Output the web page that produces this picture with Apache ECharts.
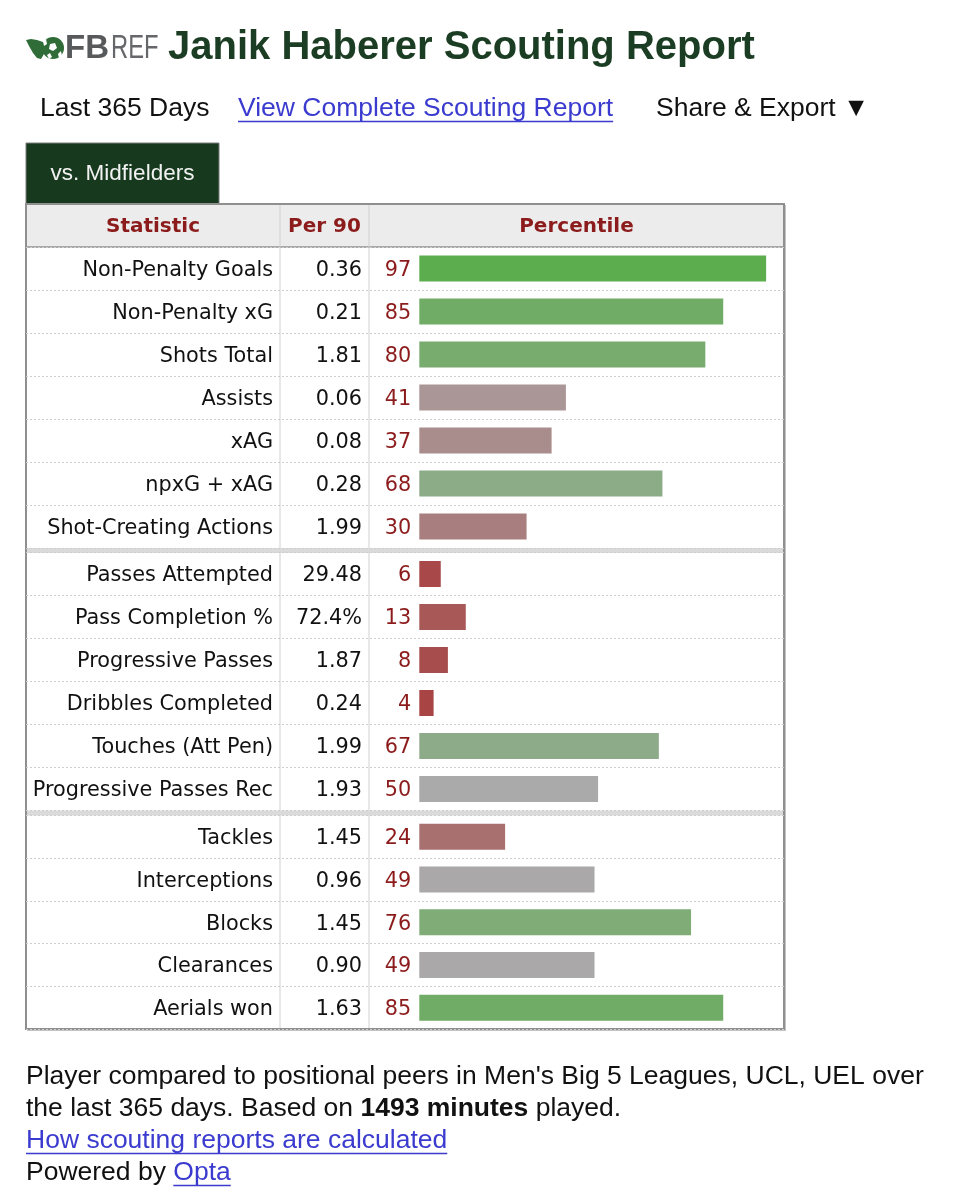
<!DOCTYPE html>
<html><head><meta charset="utf-8">
<script src="https://cdn.jsdelivr.net/npm/echarts@6/dist/echarts.min.js"></script>
<style>html,body{margin:0;padding:0;background:#fff}#c{width:974px;height:1200px}</style>
</head><body><div id="c"></div>
<script>
// ---- data ----
const playerName = 'Janik Haberer';
const group1Stats = ['Non-Penalty Goals','Non-Penalty xG','Shots Total','Assists','xAG','npxG + xAG','Shot-Creating Actions'];
const group1Per90 = ['0.36','0.21','1.81','0.06','0.08','0.28','1.99'];
const group1Pct = [97,85,80,41,37,68,30];
const group2Stats = ['Passes Attempted','Pass Completion %','Progressive Passes','Dribbles Completed','Touches (Att Pen)','Progressive Passes Rec'];
const group2Per90 = ['29.48','72.4%','1.87','0.24','1.99','1.93'];
const group2Pct = [6,13,8,4,67,50];
const group3Stats = ['Tackles','Interceptions','Blocks','Clearances','Aerials won'];
const group3Per90 = ['1.45','0.96','1.45','0.90','1.63'];
const group3Pct = [24,49,76,49,85];
const minutesPlayed = 1493;
const headerLabels = ['Statistic','Per 90','Percentile'];

// ---- helpers ----
const groups = [
  {stats:group1Stats, per90:group1Per90, pct:group1Pct},
  {stats:group2Stats, per90:group2Per90, pct:group2Pct},
  {stats:group3Stats, per90:group3Per90, pct:group3Pct}
];
const SANS = 'Liberation Sans, Arial, Helvetica, sans-serif';
const VERD = 'DejaVu Sans, Verdana, sans-serif';
const FS = 26.5;          // body Helvetica-like size
const TFS = 20.8;         // table text size
const mctx = document.createElement('canvas').getContext('2d');
function tw(text, font){ mctx.font = font; return mctx.measureText(text).width; }
const sansFont = FS + 'px Liberation Sans';

const LOW=[168,59,59], MID=[170,170,170], HIGH=[87,173,72];
function pctColor(v){
  let a,b,t;
  if(v<=50){a=LOW;b=MID;t=v/50;} else {a=MID;b=HIGH;t=(v-50)/50;}
  const c=a.map((x,i)=>Math.round(x+(b[i]-x)*t));
  return 'rgb('+c.join(',')+')';
}

// ---- layout ----
const TL=26, TR=784, TW=TR-TL;
const gridDefs = [
  {top:247, height:301},
  {top:552.5, height:258},
  {top:815.5, height:213.5}
];
const TEXT_DY = 2;   // text baseline nudge for Verdana-like rows
const colX = [280, 369];
const RED = '#8c1b1b';
const LINK = '#3b3bcf';

const graphic = [];
// logo
graphic.push({type:'polygon', shape:{points:[[26,40],[31,39],[37,40],[43,42],[45,47],[44,54],[41,59],[37,58],[33,53],[29,46]]}, style:{fill:'#2f6c38'}});
graphic.push({type:'circle', shape:{cx:53, cy:48, r:11}, style:{fill:'#2f6c38'}});
graphic.push({type:'polygon', shape:{points:[[50,44],[55,43],[57,48],[53,51],[49,49]]}, style:{fill:'#ffffff'}});
graphic.push({type:'polygon', shape:{points:[[43,41],[46,39],[47,44],[44,46]]}, style:{fill:'#ffffff'}});
graphic.push({type:'polygon', shape:{points:[[58,54],[61,51],[62,56],[59,58]]}, style:{fill:'#ffffff'}});
graphic.push({type:'polygon', shape:{points:[[47,55],[50,53],[52,57],[49,59]]}, style:{fill:'#ffffff'}});
graphic.push({type:'text', x:65, y:49, style:{text:'FB', fontFamily:SANS, fontWeight:'bold', fontSize:33, fill:'#58595b', align:'left', verticalAlign:'middle'}});
graphic.push({type:'text', x:111, y:49, scaleX:0.72, style:{text:'REF', fontFamily:SANS, fontSize:33, fill:'#66676a', align:'left', verticalAlign:'middle'}});
// title
graphic.push({type:'text', x:168, y:48, style:{text:playerName+' Scouting Report', fontFamily:SANS, fontWeight:'bold', fontSize:40, fill:'#1b3d23', align:'left', verticalAlign:'middle'}});
// sub header
graphic.push({type:'text', x:40, y:109, style:{text:'Last 365 Days', fontFamily:SANS, fontSize:FS, fill:'#111', align:'left', verticalAlign:'middle'}});
const linkText1 = 'View Complete Scouting Report';
graphic.push({type:'text', x:238, y:109, style:{text:linkText1, fontFamily:SANS, fontSize:FS, fill:LINK, align:'left', verticalAlign:'middle'}});
graphic.push({type:'line', shape:{x1:238, y1:121.5, x2:238+tw(linkText1, sansFont), y2:121.5}, style:{stroke:LINK, lineWidth:1.5}});
graphic.push({type:'text', x:656, y:109, style:{text:'Share & Export \u25BC', fontFamily:SANS, fontSize:FS, fill:'#111', align:'left', verticalAlign:'middle'}});

// tab
graphic.push({type:'rect', shape:{x:TL, y:143, width:193, height:61}, style:{fill:'#173a1f', stroke:'#7d7d7d', lineWidth:1}});
graphic.push({type:'text', x:TL+96.5, y:174, style:{text:'vs. Midfielders', fontFamily:SANS, fontSize:22.5, fill:'#f2f2f2', align:'center', verticalAlign:'middle'}});

// header row
graphic.push({type:'rect', shape:{x:TL, y:204, width:TW, height:43}, style:{fill:'#ececec'}});
const headerCenters = [(TL+colX[0])/2, (colX[0]+colX[1])/2, (colX[1]+TR)/2];
headerLabels.forEach((h,i)=>{
  graphic.push({type:'text', x:headerCenters[i], y:227, style:{text:h, fontFamily:VERD, fontWeight:'bold', fontSize:20, fill:RED, align:'center', verticalAlign:'middle'}});
});
graphic.push({type:'line', shape:{x1:TL, y1:247, x2:TR, y2:247}, style:{stroke:'#a8a8a8', lineWidth:2}});
// column lines
colX.forEach(x=>{
  graphic.push({type:'line', shape:{x1:x, y1:204, x2:x, y2:1029}, style:{stroke:'#d0d0d0', lineWidth:1}});
});
// separators
[548, 810.5].forEach(y=>{
  graphic.push({type:'rect', shape:{x:TL, y:y, width:TW, height:5}, style:{fill:'#dadada'}});
});
// outer border
graphic.push({type:'rect', shape:{x:TL, y:204, width:TW, height:825}, style:{fill:null, stroke:'#8f8f8f', lineWidth:2}});
graphic.push({type:'line', shape:{x1:TR+1.5, y1:205, x2:TR+1.5, y2:1031}, style:{stroke:'#c4c4c4', lineWidth:1}});
graphic.push({type:'line', shape:{x1:TL+1, y1:1030.5, x2:TR+1.5, y2:1030.5}, style:{stroke:'#c4c4c4', lineWidth:1}});

// footer
const fy = [1077, 1109, 1141, 1173];
graphic.push({type:'text', x:TL, y:fy[0], style:{text:"Player compared to positional peers in Men's Big 5 Leagues, UCL, UEL over", fontFamily:SANS, fontSize:FS, fill:'#111', align:'left', verticalAlign:'middle'}});
graphic.push({type:'text', x:TL, y:fy[1], style:{text:'the last 365 days. Based on {b|'+minutesPlayed+' minutes} played.', fontFamily:SANS, fontSize:FS, fill:'#111', align:'left', verticalAlign:'middle',
  rich:{b:{fontFamily:SANS, fontSize:FS, fontWeight:'bold', fill:'#111'}}}});
const linkText2 = 'How scouting reports are calculated';
graphic.push({type:'text', x:TL, y:fy[2], style:{text:linkText2, fontFamily:SANS, fontSize:FS, fill:LINK, align:'left', verticalAlign:'middle'}});
graphic.push({type:'line', shape:{x1:TL, y1:fy[2]+12.5, x2:TL+tw(linkText2,sansFont), y2:fy[2]+12.5}, style:{stroke:LINK, lineWidth:1.5}});
const pb = 'Powered by ';
const pbw = tw(pb, sansFont);
graphic.push({type:'text', x:TL, y:fy[3], style:{text:pb, fontFamily:SANS, fontSize:FS, fill:'#111', align:'left', verticalAlign:'middle'}});
graphic.push({type:'text', x:TL+pbw, y:fy[3], style:{text:'Opta', fontFamily:SANS, fontSize:FS, fill:LINK, align:'left', verticalAlign:'middle'}});
graphic.push({type:'line', shape:{x1:TL+pbw, y1:fy[3]+12.5, x2:TL+pbw+tw('Opta',sansFont), y2:fy[3]+12.5}, style:{stroke:LINK, lineWidth:1.5}});

// ---- chart option ----
const barGrids = gridDefs.map(g=>({left:TL, width:TW, top:g.top, height:g.height, containLabel:false}));
const labelGrids = gridDefs.map(g=>({left:TL, width:TW, top:g.top+TEXT_DY, height:g.height, containLabel:false}));
const hiddenAxis = {axisLine:{show:false}, axisTick:{show:false}};
const option = {
  animation:false,
  backgroundColor:'#ffffff',
  grid: barGrids.concat(labelGrids),
  xAxis: [0,1,2,3,4,5].map(i=>({gridIndex:i, type:'value', min:-110, max:102, show:false})),
  yAxis: groups.map((g,i)=>Object.assign({gridIndex:i, type:'category', data:g.stats, inverse:true,
      axisLabel:{show:false},
      splitLine:{show:true, interval:0, lineStyle:{color:'#cdcdcd', type:[2,2], width:1}}}, hiddenAxis))
    .concat(groups.flatMap((g,i)=>[
      Object.assign({gridIndex:3+i, type:'category', data:g.stats, inverse:true, position:'left', splitLine:{show:false},
        axisLabel:{inside:true, align:'right', margin:247, interval:0, color:'#111', fontFamily:VERD, fontSize:TFS}}, hiddenAxis),
      Object.assign({gridIndex:3+i, type:'category', data:g.stats, inverse:true, position:'right', splitLine:{show:false},
        axisLabel:{inside:true, align:'right', margin:TR-362, interval:0, color:'#111', fontFamily:VERD, fontSize:TFS,
          formatter:(v,idx)=>g.per90[idx]}}, hiddenAxis)
    ])),
  series: groups.map((g,i)=>({
    type:'bar', xAxisIndex:i, yAxisIndex:i, data:g.pct, barWidth:26, silent:true,
    itemStyle:{color:(p)=>pctColor(p.value)},
    label:{show:true, position:'left', distance:8, offset:[0,TEXT_DY], color:RED, fontFamily:VERD, fontSize:TFS}
  })),
  graphic: graphic
};
const chart = echarts.init(document.getElementById('c'), null, {renderer:'canvas', width:974, height:1200});
chart.setOption(option);
</script>
</body></html>
